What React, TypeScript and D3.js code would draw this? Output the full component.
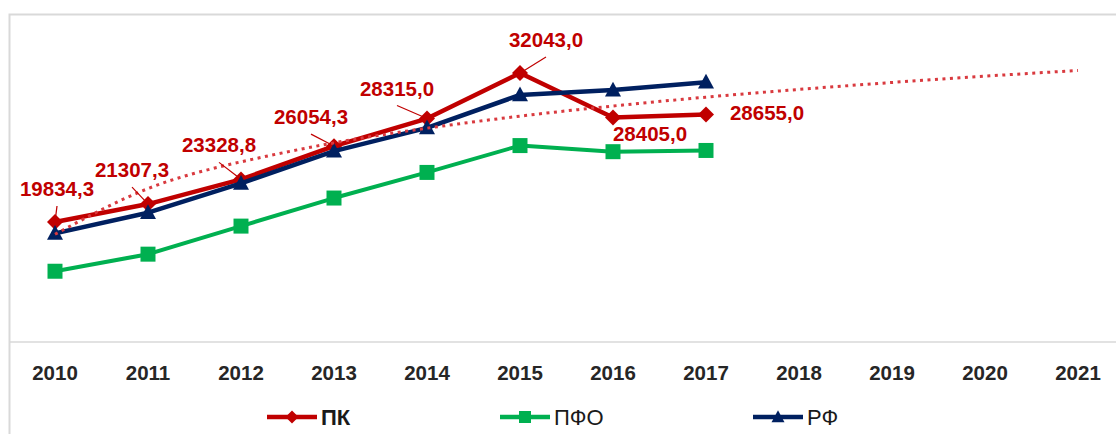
import React, { useEffect, useRef } from 'react';
import * as d3 from 'd3';

const years = ['2010', '2011', '2012', '2013', '2014', '2015', '2016', '2017', '2018', '2019', '2020', '2021'];
const pkValues = [19834.3, 21307.3, 23328.8, 26054.3, 28315.0, 32043.0, 28405.0, 28655.0];
const pfoValues = [15800, 17200, 19500, 21800, 23900, 26100, 25600, 25700];
const rfValues = [18900, 20600, 23000, 25650, 27550, 30250, 30650, 31300];
const legendNames = ['ПК', 'ПФО', 'РФ'];

// data label placement (offset from the point), leaders on the first six
const labelOffsets = [[2, -33], [-16, -34], [-22, -34], [-23, -29], [-30, -30], [26, -33], [37, 17], [61, -1]];
const labelLeaders = [true, true, true, true, true, true, false, false];

const RED = '#c00000';
const GREEN = '#00b050';
const NAVY = '#002060';
const FONT = '"Liberation Sans", Arial, sans-serif';

function markerPath(kind: string, s: number) {
  if (kind === 'diamond') return `M0,${-s}L${s},0L0,${s}L${-s},0Z`;
  if (kind === 'square') return `M${-s},${-s}H${s}V${s}H${-s}Z`;
  return `M0,${-s * 1.05}L${s},${s * 0.8}L${-s},${s * 0.8}Z`;
}

export default function App() {
  const svgRef = useRef<SVGSVGElement>(null);

  useEffect(() => {
    const width = 1116;
    const height = 434;
    const axisY = 342;

    const svg = d3.select(svgRef.current);
    svg.selectAll('*').remove();
    svg.attr('width', width).attr('height', height);

    svg.append('rect')
      .attr('width', width).attr('height', height).attr('fill', '#fff');

    // chart frame (right/bottom edges fall outside the picture)
    svg.append('rect')
      .attr('x', 9.5).attr('y', 14.5)
      .attr('width', 1130).attr('height', 440)
      .attr('fill', 'none')
      .attr('stroke', '#d9d9d9')
      .attr('stroke-width', 2);

    const x = d3.scalePoint<string>()
      .domain(years)
      .range([8.5, 1124.5])
      .padding(0.5);

    const y = d3.scaleLinear()
      .domain([10000, 35000])
      .range([axisY, 37]);

    // category axis
    svg.append('line')
      .attr('x1', 10).attr('x2', width)
      .attr('y1', axisY).attr('y2', axisY)
      .attr('stroke', '#d9d9d9')
      .attr('stroke-width', 1.5);

    svg.append('g')
      .selectAll('text')
      .data(years)
      .join('text')
      .attr('x', d => x(d)!)
      .attr('y', 380)
      .attr('text-anchor', 'middle')
      .attr('font-family', FONT)
      .attr('font-weight', 'bold')
      .attr('font-size', 20.5)
      .attr('fill', '#262626')
      .text(d => d);

    const series = [
      { values: pkValues, color: RED, marker: 'diamond', size: 8, width: 4.5 },
      { values: pfoValues, color: GREEN, marker: 'square', size: 7.5, width: 4 },
      { values: rfValues, color: NAVY, marker: 'triangle', size: 8, width: 4.5 },
    ];

    const line = d3.line<number>()
      .x((_, i) => x(years[i])!)
      .y(d => y(d));

    series.forEach(s => {
      svg.append('path')
        .datum(s.values)
        .attr('fill', 'none')
        .attr('stroke', s.color)
        .attr('stroke-width', s.width)
        .attr('stroke-linejoin', 'round')
        .attr('d', line);

      svg.append('g')
        .selectAll('path')
        .data(s.values)
        .join('path')
        .attr('transform', (d, i) => `translate(${x(years[i])},${y(d)})`)
        .attr('d', markerPath(s.marker, s.size))
        .attr('fill', s.color);
    });

    // logarithmic trendline of ПК, extended to 2021
    const lx = pkValues.map((_, i) => Math.log(i + 1));
    const mx = d3.mean(lx)!;
    const my = d3.mean(pkValues)!;
    const b = d3.sum(lx, (v, i) => (v - mx) * (pkValues[i] - my)) / d3.sum(lx, v => (v - mx) ** 2);
    const a = my - b * mx;
    const trend = years.map((_, i) => a + b * Math.log(i + 1));

    svg.append('path')
      .datum(trend)
      .attr('fill', 'none')
      .attr('stroke', '#d93a3f')
      .attr('stroke-width', 3)
      .attr('stroke-dasharray', '3,4.5')
      .attr('d', line.curve(d3.curveNatural));

    // data labels for ПК
    pkValues.forEach((v, i) => {
      const px = x(years[i])!;
      const py = y(v);
      const cx = px + labelOffsets[i][0];
      const cy = py + labelOffsets[i][1];

      if (labelLeaders[i]) {
        const sx = cx;
        const sy = cy + 17;
        const dx = px - sx;
        const dy = py - sy;
        const len = Math.hypot(dx, dy);
        svg.append('line')
          .attr('x1', sx).attr('y1', sy)
          .attr('x2', px - (dx / len) * 5).attr('y2', py - (dy / len) * 5)
          .attr('stroke', RED)
          .attr('stroke-width', 1.2);
      }

      svg.append('text')
        .attr('x', cx)
        .attr('y', cy + 7)
        .attr('text-anchor', 'middle')
        .attr('font-family', FONT)
        .attr('font-weight', 'bold')
        .attr('font-size', 20.5)
        .attr('fill', RED)
        .text(v.toFixed(1).replace('.', ','));
    });

    // legend
    const legendX = [267, 500, 753];
    const legendY = 417;
    series.forEach((s, i) => {
      const g = svg.append('g')
        .attr('transform', `translate(${legendX[i]},${legendY})`);

      g.append('line')
        .attr('x1', 0).attr('x2', 50)
        .attr('y1', 0).attr('y2', 0)
        .attr('stroke', s.color)
        .attr('stroke-width', 4.5);

      g.append('path')
        .attr('transform', 'translate(25,0)')
        .attr('d', markerPath(s.marker, s.size - 1.5))
        .attr('fill', s.color);

      g.append('text')
        .attr('x', 54)
        .attr('y', 8)
        .attr('font-family', FONT)
        .attr('font-weight', i === 0 ? 'bold' : 'normal')
        .attr('font-size', 22)
        .attr('fill', '#1a1a1a')
        .text(legendNames[i]);
    });
  }, []);

  return (
    <svg ref={svgRef} style={{ position: 'absolute', left: 0, top: 0, display: 'block' }}></svg>
  );
}
